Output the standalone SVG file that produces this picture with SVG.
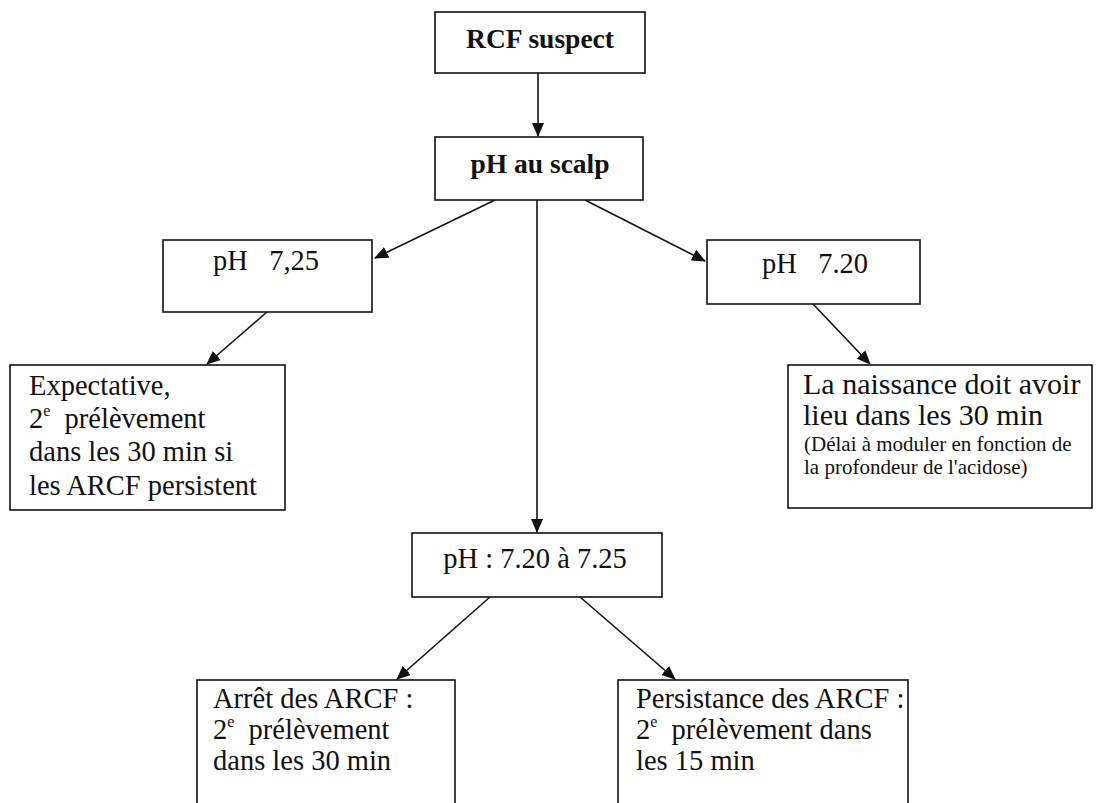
<svg xmlns="http://www.w3.org/2000/svg" width="1101" height="803" viewBox="0 0 1101 803">
<style>
.box{fill:#fff;stroke:#111;stroke-width:1.6}
text{font-family:'Liberation Serif','DejaVu Serif','Times New Roman',serif;fill:#111;white-space:pre}
.h{font-size:27.5px;font-weight:bold}
.m{font-size:28.5px}
.s{font-size:21px}
.c{stroke:#111;stroke-width:1.6;fill:none;marker-end:url(#ah)}
</style>
<defs>
<marker id="ah" markerUnits="userSpaceOnUse" markerWidth="14" markerHeight="12" viewBox="0 0 14 12" refX="13" refY="6" orient="auto">
<path d="M0,0 L14,6 L0,12 Z" fill="#111"/>
</marker>
</defs>
<rect width="1101" height="803" fill="#fff"/>
<g id="connectors">
<line class="c" x1="538" y1="73" x2="538" y2="136"/>
<line class="c" x1="495" y1="200" x2="375" y2="258"/>
<line class="c" x1="585" y1="200" x2="705" y2="261"/>
<line class="c" x1="537" y1="200" x2="537" y2="532"/>
<line class="c" x1="267" y1="312" x2="207" y2="364"/>
<line class="c" x1="813" y1="304" x2="870" y2="364"/>
<line class="c" x1="490" y1="597" x2="397" y2="679"/>
<line class="c" x1="580" y1="597" x2="675" y2="679"/>
</g>
<g id="rcf">
<rect class="box" x="435" y="12" width="210" height="61"/>
<text class="h" x="540" y="48" text-anchor="middle">RCF suspect</text>
</g>
<g id="scalp">
<rect class="box" x="435" y="137" width="208" height="63"/>
<text class="h" x="540" y="173" text-anchor="middle">pH au scalp</text>
</g>
<g id="ph725">
<rect class="box" x="163" y="240" width="209" height="72"/>
<text class="m" x="213" y="270">pH   7,25</text>
</g>
<g id="ph720">
<rect class="box" x="707" y="240" width="213" height="64"/>
<text class="m" x="762" y="273">pH   7.20</text>
</g>
<g id="expectative">
<rect class="box" x="10" y="365" width="275" height="145"/>
<text class="m" x="29" y="395">Expectative,</text>
<text class="m" x="29" y="428">2<tspan font-size="16" dy="-12">e</tspan><tspan dy="12">  prélèvement</tspan></text>
<text class="m" x="29" y="461">dans les 30 min si</text>
<text class="m" x="29" y="495">les ARCF persistent</text>
</g>
<g id="naissance">
<rect class="box" x="788" y="365" width="304" height="143"/>
<text font-size="30" x="803" y="394">La naissance doit avoir</text>
<text font-size="30" x="803" y="425">lieu dans les 30 min</text>
<text class="s" x="804" y="451">(Délai à moduler en fonction de</text>
<text class="s" x="804" y="474">la profondeur de l'acidose)</text>
</g>
<g id="intermediaire">
<rect class="box" x="412" y="533" width="250" height="64"/>
<text class="m" x="535" y="568" text-anchor="middle">pH : 7.20 à 7.25</text>
</g>
<g id="arret">
<rect class="box" x="197" y="680" width="258" height="140"/>
<text class="m" x="213" y="708">Arrêt des ARCF :</text>
<text class="m" x="213" y="739">2<tspan font-size="16" dy="-12">e</tspan><tspan dy="12">  prélèvement</tspan></text>
<text class="m" x="213" y="770">dans les 30 min</text>
</g>
<g id="persistance">
<rect class="box" x="618" y="680" width="290" height="140"/>
<text class="m" x="636" y="708">Persistance des ARCF :</text>
<text class="m" x="636" y="739">2<tspan font-size="16" dy="-12">e</tspan><tspan dy="12">  prélèvement dans</tspan></text>
<text class="m" x="636" y="770">les 15 min</text>
</g>
</svg>
